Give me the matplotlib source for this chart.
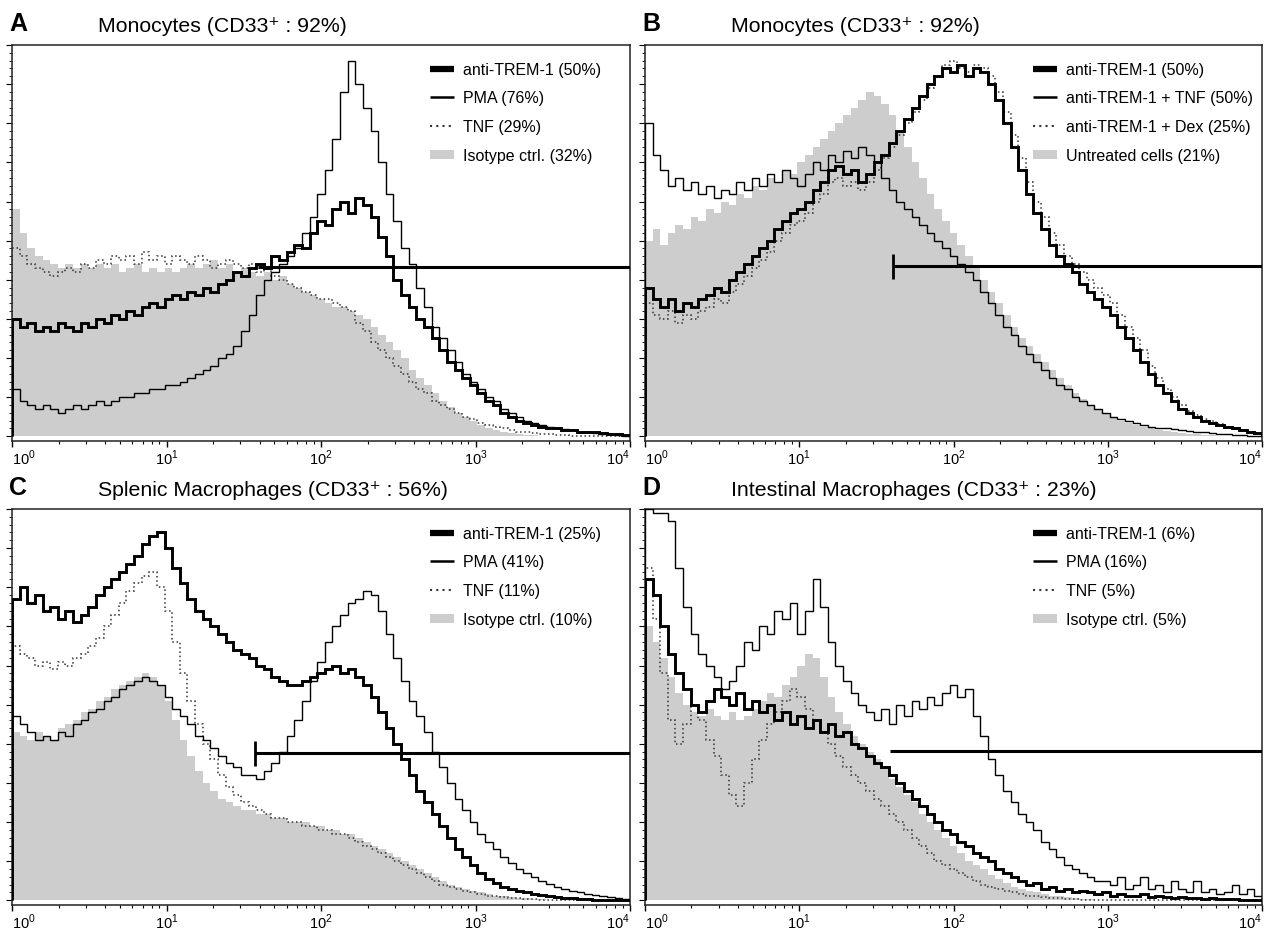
import matplotlib
matplotlib.use('Agg')
import matplotlib.pyplot as plt
import numpy as np
from matplotlib.lines import Line2D
from matplotlib.patches import Patch
from matplotlib.ticker import LogLocator, MultipleLocator, NullFormatter

plt.rcParams['font.family'] = ['Liberation Sans', 'DejaVu Sans']
plt.rcParams['mathtext.fontset'] = 'custom'
plt.rcParams['mathtext.rm'] = 'Liberation Sans'

# 81 channels spread over 4 log decades (10^0 .. 10^4)
n_bins = 81
edges = np.logspace(0, 4, n_bins + 1)

# ---- panel A: monocytes ----
a_trem = [30, 28, 29, 27, 28, 27, 29, 28, 27, 29,
          28, 30, 29, 31, 30, 32, 31, 33, 34, 33,
          35, 36, 35, 37, 36, 38, 37, 39, 40, 42,
          41, 43, 44, 43, 46, 45, 47, 49, 48, 52,
          55, 54, 58, 60, 57, 61, 59, 56, 51, 46,
          40, 36, 33, 30, 28, 25, 22, 19, 17, 15,
          13, 11, 9, 8, 6, 5, 4, 3.5, 3, 2.5,
          2, 2, 1.5, 1.5, 1.2, 1, 1, 0.8, 0.6, 0.5,
          0.3]
a_pma = [12, 9, 8, 7, 8, 7, 6, 7, 8, 7,
         8, 9, 8, 9, 10, 10, 11, 11, 12, 12,
         13, 13, 14, 15, 16, 17, 18, 20, 21, 23,
         27, 31, 36, 40, 42, 44, 46, 48, 52, 56,
         62, 68, 76, 88, 96, 90, 84, 78, 70, 62,
         55, 48, 44, 38, 33, 28, 25, 22, 19, 16,
         14, 12, 10, 9, 7, 6, 5, 4, 3.5, 3,
         2.5, 2, 1.8, 1.5, 1.2, 1, 0.8, 0.6, 0.5, 0.3,
         0.2]
a_tnf = [48, 46, 44, 43, 42, 41, 42, 43, 42, 44,
         43, 45, 44, 46, 45, 46, 44, 47, 45, 46,
         44, 46, 45, 44, 46, 45, 43, 44, 45, 44,
         43, 44, 42, 43, 41, 40, 39, 38, 37, 36,
         35, 35, 34, 33, 32, 29, 27, 24, 22, 20,
         18, 16, 14, 12, 11, 9, 8, 7, 6, 5,
         4.5, 3.5, 3, 2.5, 2, 1.5, 1.2, 1, 0.8, 0.6,
         0.5, 0.4, 0.3, 0.2, 0.2, 0.1, 0.1, 0, 0, 0,
         0]
a_iso = [58, 52, 48, 46, 45, 44, 43, 44, 43, 44,
         43, 44, 43, 44, 42, 43, 44, 42, 43, 42,
         43, 42, 43, 44, 43, 44, 45, 43, 44, 42,
         43, 42, 41, 42, 40, 41, 39, 38, 37, 36,
         35, 34, 33, 33, 32, 31, 30, 28, 26, 24,
         22, 20, 17, 15, 13, 11, 9, 7.5, 6, 5,
         4, 3, 2.2, 1.6, 1.2, 0.9, 0.6, 0.4, 0.3, 0.2,
         0.1, 0, 0, 0, 0, 0, 0, 0, 0, 0,
         0]

# ---- panel B: monocytes, treatments ----
b_trem = [38, 35, 33, 35, 32, 34, 33, 35, 36, 38,
          37, 40, 42, 44, 46, 48, 50, 53, 55, 57,
          58, 60, 63, 65, 68, 69, 67, 68, 65, 67,
          70, 72, 75, 78, 81, 84, 87, 90, 92, 94,
          93, 95, 92, 94, 93, 90, 86, 80, 74, 68,
          62, 57, 53, 49, 46, 44, 42, 39, 37, 35,
          33, 31, 28, 25, 22, 19, 16, 13, 11, 9,
          7, 6, 5, 4, 3.5, 3, 2.5, 2, 1.5, 1,
          0.8]
b_tnf = [80, 72, 68, 64, 66, 63, 65, 62, 64, 61,
         63, 62, 65, 63, 66, 64, 67, 65, 68, 66,
         64, 67, 70, 68, 72, 70, 73, 71, 74, 72,
         70, 66, 63, 60, 58, 56, 54, 52, 50, 48,
         46, 44, 42, 40, 37, 34, 31, 28, 26, 23,
         21, 19, 17, 15, 13, 12, 10, 9, 8, 7,
         6, 5, 4.5, 4, 3.5, 3, 2.5, 2.2, 2, 1.8,
         1.5, 1.3, 1.1, 1, 0.8, 0.6, 0.5, 0.4, 0.3, 0.2,
         0.1]
b_dex = [34, 31, 30, 32, 29, 31, 30, 32, 33, 35,
         34, 37, 39, 41, 43, 45, 47, 50, 52, 54,
         55, 57, 60, 62, 65, 66, 64, 65, 63, 65,
         68, 71, 74, 77, 80, 83, 86, 89, 92, 95,
         96, 94, 93, 95, 94, 92, 88, 83, 77, 71,
         65, 60, 56, 52, 49, 46, 44, 42, 40, 38,
         36, 34, 31, 28, 25, 22, 18, 15, 12, 10,
         8, 6.5, 5.5, 4.5, 3.8, 3.2, 2.5, 2, 1.5, 1,
         0.8]
b_untr = [50, 53, 49, 52, 54, 53, 56, 55, 58, 57,
          60, 59, 62, 61, 64, 63, 66, 65, 68, 67,
          70, 72, 74, 76, 78, 80, 82, 84, 86, 88,
          87, 85, 82, 78, 74, 70, 66, 62, 58, 55,
          52, 49, 46, 43, 40, 37, 34, 31, 28, 25,
          23, 21, 19, 17, 15, 13, 11, 9.5, 8, 7,
          6, 5, 4, 3.5, 3, 2.5, 2, 1.6, 1.3, 1,
          0.8, 0.6, 0.5, 0.4, 0.3, 0.2, 0, 0, 0, 0,
          0]

# ---- panel C: splenic macrophages ----
c_trem = [77, 80, 76, 78, 74, 75, 72, 74, 71, 73,
          75, 78, 80, 82, 84, 86, 88, 91, 93, 94,
          90, 85, 81, 77, 74, 72, 70, 68, 66, 64,
          63, 62, 60, 59, 57, 56, 55, 55, 56, 57,
          58, 59, 60, 58, 59, 57, 55, 52, 48, 44,
          40, 36, 32, 28, 25, 22, 19, 16, 13, 11,
          9, 7, 5.5, 4.5, 3.5, 3, 2.5, 2, 1.6, 1.3,
          1, 0.8, 0.6, 0.5, 0.4, 0.3, 0.2, 0.2, 0.1, 0.1,
          0]
c_pma = [47, 45, 43, 41, 42, 41, 43, 42, 45, 46,
         48, 49, 51, 52, 54, 55, 56, 57, 56, 55,
         52, 49, 47, 45, 42, 41, 39, 37, 35, 34,
         32, 32, 31, 33, 35, 38, 42, 46, 51, 56,
         61, 66, 70, 73, 76, 77, 79, 78, 74, 68,
         62, 56, 51, 47, 43, 38, 34, 30, 26, 23,
         20, 17, 15, 13, 11, 9.5, 8, 7, 6, 5,
         4.2, 3.5, 3, 2.5, 2, 1.7, 1.4, 1.1, 0.8, 0.6,
         0.4]
c_tnf = [65, 63, 62, 60, 61, 59, 61, 60, 62, 63,
         65, 67, 70, 73, 76, 79, 81, 83, 84, 80,
         74, 66, 58, 51, 45, 40, 36, 32, 29, 27,
         25, 24, 23, 22, 21, 21, 20, 20, 19, 19,
         18, 18, 17, 17, 16, 15, 14, 13, 12, 11,
         10, 9, 8, 7, 6, 5, 4, 3.5, 3, 2.5,
         2, 1.5, 1.2, 1, 0.8, 0.6, 0.5, 0.4, 0.3, 0.2,
         0.1, 0, 0, 0, 0, 0, 0, 0, 0, 0,
         0]
c_iso = [43, 42, 41, 43, 42, 41, 44, 45, 46, 48,
         49, 51, 52, 54, 55, 56, 57, 58, 57, 55,
         51, 46, 41, 37, 33, 30, 28, 26, 25, 24,
         23, 23, 22, 22, 21, 21, 20, 20, 20, 19,
         19, 18, 18, 17, 17, 16, 15, 14, 13, 12,
         11, 10, 9, 8, 7, 6, 5, 4, 3.5, 3,
         2.5, 2, 1.5, 1.2, 1, 0.8, 0.6, 0.5, 0.4, 0.3,
         0.2, 0, 0, 0, 0, 0, 0, 0, 0, 0,
         0]

# ---- panel D: intestinal macrophages ----
d_trem = [82, 78, 70, 63, 58, 54, 50, 48, 51, 54,
          52, 50, 53, 49, 51, 48, 50, 46, 48, 45,
          47, 44, 46, 43, 45, 42, 43, 40, 39, 37,
          35, 34, 32, 30, 28, 26, 24, 22, 20, 18,
          17, 15, 14, 12, 11, 10, 8, 7, 6, 5,
          4, 4.5, 3, 3.5, 2.5, 3, 2, 2.5, 2, 1.5,
          2, 1, 1.5, 1, 1, 1.5, 0.8, 1, 0.8, 0.6,
          0.8, 0.5, 0.6, 0.4, 0.5, 0.3, 0.4, 0.3, 0.2, 0.2,
          0.1]
d_pma = [100, 99, 99, 97, 85, 75, 68, 63, 60, 57,
         54, 56, 60, 66, 64, 70, 68, 74, 72, 76,
         68, 74, 82, 75, 66, 60, 56, 53, 50, 48,
         46, 49, 45, 50, 47, 51, 49, 52, 50, 53,
         55, 52, 54, 47, 42, 36, 32, 28, 25, 22,
         20, 18, 15, 13, 11, 9, 8, 7, 6, 5,
         5, 4, 6, 3, 4, 6, 3, 4, 2, 5,
         3, 2, 5, 2, 3, 1.5, 2, 4, 1.5, 3,
         1]
d_tnf = [85, 72, 58, 46, 40, 45, 50, 46, 41, 37,
         32, 27, 24, 30, 36, 41, 45, 48, 51, 54,
         52, 49, 46, 43, 40, 37, 34, 32, 30, 28,
         26, 24, 22, 20, 18, 16, 14, 12, 10, 9,
         8, 7, 6, 5, 4, 3.5, 3, 2.5, 2, 1.5,
         1.2, 1, 0.8, 0.6, 0.5, 0.4, 0.3, 0.2, 0.2, 0.1,
         0, 0, 0, 0, 0, 0, 0, 0, 0, 0,
         0, 0, 0, 0, 0, 0, 0, 0, 0, 0,
         0]
d_iso = [70, 66, 62, 57, 53, 50, 48, 47, 49, 47,
         46, 48, 46, 47, 49, 51, 53, 52, 55, 57,
         60, 63, 62, 57, 52, 48, 45, 42, 40, 38,
         36, 34, 31, 29, 27, 25, 22, 20, 18, 16,
         14, 12, 10, 9, 8, 6.5, 5.5, 4.5, 3.5, 3,
         2.5, 2, 1.5, 1.2, 1, 0.8, 0.6, 0.4, 0.3, 0.2,
         0.1, 0, 0, 0, 0, 0, 0, 0, 0, 0,
         0, 0, 0, 0, 0, 0, 0, 0, 0, 0,
         0]

letters = ['A', 'B', 'C', 'D']
titles = ['Monocytes (CD33⁺ : 92%)',
          'Monocytes (CD33⁺ : 92%)',
          'Splenic Macrophages (CD33⁺ : 56%)',
          'Intestinal Macrophages (CD33⁺ : 23%)']
legend_labels = [
    ['anti-TREM-1 (50%)', 'PMA (76%)', 'TNF (29%)', 'Isotype ctrl. (32%)'],
    ['anti-TREM-1 (50%)', 'anti-TREM-1 + TNF (50%)', 'anti-TREM-1 + Dex (25%)', 'Untreated cells (21%)'],
    ['anti-TREM-1 (25%)', 'PMA (41%)', 'TNF (11%)', 'Isotype ctrl. (10%)'],
    ['anti-TREM-1 (6%)', 'PMA (16%)', 'TNF (5%)', 'Isotype ctrl. (5%)'],
]
decade_labels = [r'$10^0$', r'$10^1$', r'$10^2$', r'$10^3$', r'$10^4$']
# marker gate: start channel value and level
gate_start = [39, 40.5, 37.4, 39]
gate_level = [43.2, 43.4, 37.6, 38.1]
gate_tick = [False, True, True, False]

curves = [(a_trem, a_pma, a_tnf, a_iso),
          (b_trem, b_tnf, b_dex, b_untr),
          (c_trem, c_pma, c_tnf, c_iso),
          (d_trem, d_pma, d_tnf, d_iso)]

W, H = 1270, 929
fig = plt.figure(figsize=(W / 100, H / 100), dpi=100)

# axes boxes in pixels: left, right, top, bottom
boxes = [(12, 630, 46, 442), (645, 1262, 46, 442),
         (12, 630, 510, 906), (645, 1262, 510, 906)]
gray = '#cdcdcd'

for i, (x0, x1, y0, y1) in enumerate(boxes):
    ax = fig.add_axes([x0 / W, 1 - y1 / H, (x1 - x0) / W, (y1 - y0) / H])
    thick, thin, dots, fillc = curves[i]

    ax.stairs(fillc, edges, baseline=0, fill=True, color=gray, lw=0, zorder=1)
    ax.stairs(dots, edges, baseline=0, color='#333333', lw=1.1,
              linestyle=(0, (1, 1.8)), zorder=2)
    ax.stairs(thin, edges, baseline=0, color='black', lw=1.0, zorder=3)
    ax.stairs(thick, edges, baseline=0, color='black', lw=2.1, zorder=4)

    ax.hlines(gate_level[i], gate_start[i], 1e4, color='black', lw=2.2, zorder=5)
    if gate_tick[i]:
        ax.vlines(gate_start[i], gate_level[i] - 3.2, gate_level[i] + 3.2,
                  color='black', lw=2.0, zorder=5)

    ax.set_xscale('log')
    ax.set_xlim(1, 1e4)
    ax.set_ylim(-1.2, 100)
    ax.set_xticks([1, 10, 100, 1000, 10000], labels=decade_labels)
    ticklabels = ax.get_xticklabels()
    ticklabels[0].set_ha('left')
    ticklabels[-1].set_ha('right')
    ax.xaxis.set_minor_locator(LogLocator(base=10, subs=np.arange(2, 10)))
    ax.xaxis.set_minor_formatter(NullFormatter())
    ax.yaxis.set_major_locator(MultipleLocator(10))
    ax.yaxis.set_minor_locator(MultipleLocator(2))
    ax.set_yticklabels([])
    ax.tick_params(axis='x', which='major', direction='out', length=4, width=1,
                   labelsize=10.5, pad=0.5)
    ax.tick_params(axis='x', which='minor', direction='out', length=2.5, width=0.8)
    ax.tick_params(axis='y', which='major', direction='out', length=4, width=0.8)
    ax.tick_params(axis='y', which='minor', direction='out', length=2.5, width=0.6)
    for s in ax.spines.values():
        s.set_linewidth(1.1)
        s.set_color('#222222')

    handles = [Line2D([], [], color='black', lw=4.5, solid_capstyle='butt'),
               Line2D([], [], color='black', lw=1.8, solid_capstyle='butt'),
               Line2D([], [], color='#333333', lw=1.5, linestyle=(0, (1, 2))),
               Patch(facecolor=gray, edgecolor='none')]
    lx = 0.676 if i in (0, 2) else 0.629
    ax.legend(handles, legend_labels[i], loc='upper left', bbox_to_anchor=(lx, 0.958),
              frameon=False, fontsize=11.5, handlelength=1.5, handleheight=0.5,
              handletextpad=0.55, labelspacing=0.86, borderaxespad=0, borderpad=0)

    fig.text((x0 - 3) / W, 1 - (y0 - 15) / H, letters[i], fontsize=18,
             fontweight='bold', va='baseline', ha='left')
    fig.text((x0 + 86) / W, 1 - (y0 - 14) / H, titles[i], fontsize=15.3,
             va='baseline', ha='left')

fig.savefig('out.png', dpi=100)
